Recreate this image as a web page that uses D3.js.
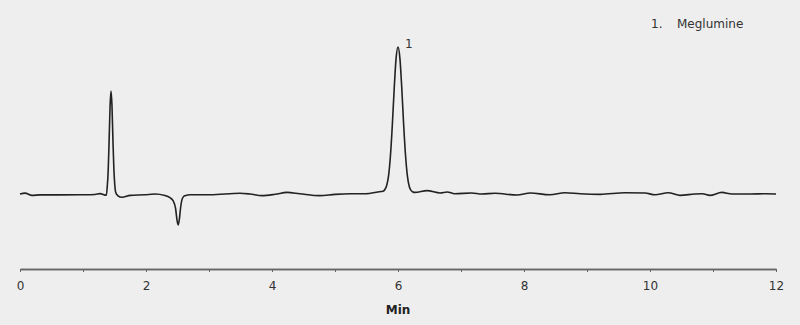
<!DOCTYPE html>
<html>
<head>
<meta charset="utf-8">
<script src="https://cdn.jsdelivr.net/npm/d3@7"></script>
<style>
  html, body { margin: 0; padding: 0; background: #eeeeee; }
  .canvas svg { display: block; }
  text { font-family: "DejaVu Sans", Verdana, sans-serif; fill: #333; }
</style>
</head>
<body>
<div class="canvas"></div>
<script>
// ---- DATA --- //
// retention time (min)
const time = [
    0.00, 0.08, 0.19, 0.32, 0.63, 0.95, 1.19, 1.27, 1.37,
    1.385, 1.40, 1.415, 1.43, 1.445, 1.46, 1.475, 1.49, 1.505, 1.52,
    1.55, 1.62, 1.75, 1.98, 2.14, 2.30, 2.38, 2.43, 2.47, 2.49, 2.51,
    2.53, 2.55, 2.57, 2.60, 2.62, 2.70, 3.02, 3.49, 3.65, 3.84, 4.05,
    4.24, 4.44, 4.76, 5.00, 5.24, 5.48, 5.71, 5.76, 5.79, 5.82, 5.85,
    5.88, 5.91, 5.94, 5.97, 6.00, 6.03, 6.06, 6.09, 6.12, 6.15, 6.18,
    6.21, 6.24, 6.27, 6.46, 6.67, 6.78, 6.90, 7.17, 7.33, 7.54, 7.89,
    8.10, 8.41, 8.65, 8.89, 9.21, 9.60, 9.92, 10.08, 10.29, 10.48,
    10.71, 10.83, 10.95, 11.14, 11.30, 11.59, 11.83, 12.00
];
// detector response (relative)
const signal = [
    0.0, 0.6, -0.9, -0.6, -0.6, -0.5, -0.3, 0.3, -0.8,
    5, 16, 37, 60, 70, 60, 37, 17, 6, 1,
    -1, -2.2, -0.9, -0.5, 0.0, -1, -2.5, -4.5, -10, -17, -21,
    -17, -9, -4, -1.5, -1.1, -0.5, -0.5, 0.5, 0, -1.1, -0.2,
    1.1, 0.2, -1.1, -0.2, 0.2, 0.2, 1.6, 1.9, 2.9, 5.8, 12.3,
    26, 47, 72, 92.5, 100, 92.5, 72, 47, 26, 12, 5,
    2.3, 1.3, 1.1, 2.3, 0.7, 1.4, 0.2, 0.7, 0, 0.5, -0.7,
    0.7, -0.5, 0.9, 0.2, -0.2, 0.9, 0.7, -0.5, 0.9, -0.9,
    0, 0.2, -0.9, 1.1, 0, 0, 0.2, 0
];

const peakTimes = [6.00];
const peakValues = [100];
const peakLabels = ['1'];
const compounds = ['1.', 'Meglumine'];

const majorTicks = [0, 2, 4, 6, 8, 10, 12];
const minorTicks = [0, 1, 2, 3, 4, 5, 6, 7, 8, 9, 10, 11, 12];
const xLabel = 'Min';

const points = time.map((t, i) => ({ t: t, v: signal[i] }));


// ---- GRAPH CONTAINER SETUP --- //
const width = 800;
const height = 325;
const axisY = 269;

const svg = d3.select('.canvas')
    .append('svg')
    .attr('width', width)
    .attr('height', height);

svg.append('rect')
    .attr('width', width)
    .attr('height', height)
    .attr('fill', '#eeeeee');


// ---- SCALES / AXES --- //
const x = d3.scaleLinear().domain([0, 12]).range([20, 776]);
const y = d3.scaleLinear().domain([-51, 132]).range([axisY, 0]);

const minorAxis = d3.axisBottom(x)
    .tickValues(minorTicks)
    .tickSize(3)
    .tickSizeOuter(0)
    .tickFormat('');

const majorAxis = d3.axisBottom(x)
    .tickValues(majorTicks)
    .tickSize(3)
    .tickSizeOuter(0)
    .tickPadding(9.5)
    .tickFormat(d3.format('d'));

svg.append('g')
    .attr('class', 'minor-axis')
    .attr('transform', `translate(0, ${axisY})`)
    .call(minorAxis);

const axisGroup = svg.append('g')
    .attr('class', 'x-axis')
    .attr('transform', `translate(0, ${axisY})`)
    .call(majorAxis);

svg.selectAll('.domain')
    .attr('stroke', '#666')
    .attr('stroke-width', 1.4);
svg.selectAll('.tick line')
    .attr('stroke', '#666')
    .attr('stroke-width', 1);
axisGroup.selectAll('text')
    .attr('font-size', 12)
    .attr('font-family', '"DejaVu Sans", Verdana, sans-serif')
    .attr('fill', '#333');

svg.append('text')
    .attr('x', x(6))
    .attr('y', 314)
    .attr('text-anchor', 'middle')
    .attr('font-size', 12)
    .attr('font-weight', 'bold')
    .style('fill', '#222')
    .text(xLabel);


// ---- CHROMATOGRAM --- //
const line = d3.line()
    .x(d => x(d.t))
    .y(d => y(d.v))
    .curve(d3.curveMonotoneX);

svg.append('path')
    .datum(points)
    .attr('fill', 'none')
    .attr('stroke', '#222')
    .attr('stroke-width', 1.6)
    .attr('stroke-linejoin', 'round')
    .attr('d', line);

// peak labels
svg.selectAll('.peak-label')
    .data(peakTimes)
    .enter()
    .append('text')
    .attr('class', 'peak-label')
    .attr('x', d => x(d) + 7)
    .attr('y', (d, i) => y(peakValues[i]) + 1)
    .attr('font-size', 12)
    .text((d, i) => peakLabels[i]);

// legend
svg.append('text')
    .attr('x', 651)
    .attr('y', 28)
    .attr('font-size', 12)
    .text(compounds[0]);
svg.append('text')
    .attr('x', 677)
    .attr('y', 28)
    .attr('font-size', 12)
    .text(compounds[1]);
</script>
</body>
</html>
